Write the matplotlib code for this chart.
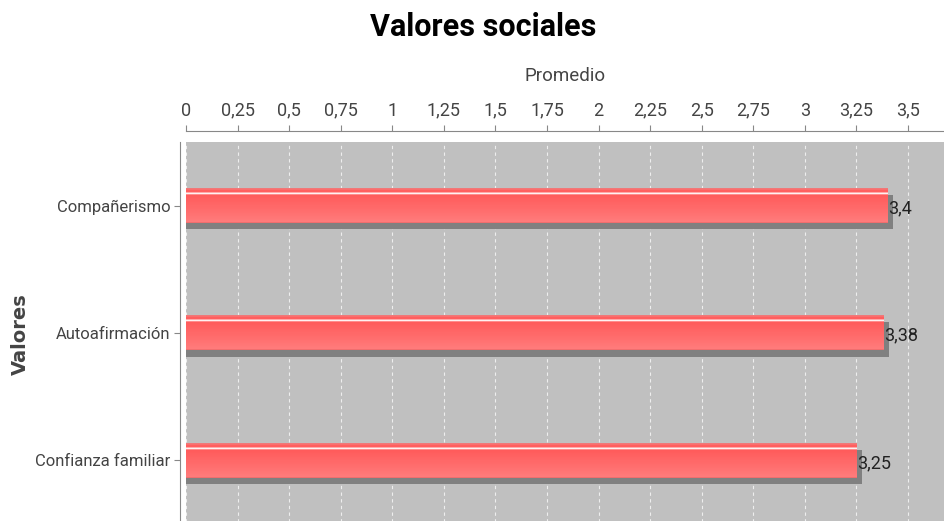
import numpy as np
import matplotlib
matplotlib.use("Agg")
import matplotlib.pyplot as plt
from matplotlib.ticker import MultipleLocator, FuncFormatter

# data
categorias = ["Compañerismo", "Autoafirmación", "Confianza familiar"]
promedios = [3.4, 3.38, 3.25]
etiquetas = ["3,4", "3,38", "3,25"]

FUENTE = ["Roboto", "DejaVu Sans"]
GRIS = "#444444"

fig = plt.figure(figsize=(9.44, 5.21), dpi=100)
W, H = 944, 521
ax = fig.add_axes([186 / W, -3 / H, 758 / W, 382 / H])
ax.set_facecolor("#c0c0c0")

# grid
ax.xaxis.set_major_locator(MultipleLocator(0.25))
ax.grid(axis="x", color="#eeeeee", linestyle=(0, (3, 3)), linewidth=0.8)
ax.set_axisbelow(True)

# gradient for bars (top to bottom)
rows = 34
grad = np.zeros((rows, 1, 3))
top = np.array([255, 82, 82]) / 255
bot = np.array([255, 125, 125]) / 255
for i in range(rows):
    t = i / (rows - 1)
    grad[i, 0] = top * (1 - t) + bot * t
grad[0, 0] = np.array([240, 120, 120]) / 255
grad[1, 0] = np.array([250, 110, 110]) / 255
grad[2, 0] = np.array([255, 95, 95]) / 255
grad[3, 0] = np.array([255, 95, 95]) / 255
grad[4, 0] = np.array([255, 170, 170]) / 255
grad[5, 0] = np.array([255, 240, 240]) / 255
grad[6, 0] = np.array([255, 140, 140]) / 255
grad[-1, 0] = np.array([240, 110, 110]) / 255

alto = 0.27
dx, dy = 0.028, 0.05
y = np.arange(len(categorias))

# shadows
ax.barh(y + dy, np.array(promedios) + dx, left=0, height=alto, color="#808080", zorder=2)

for yi, v, lab in zip(y, promedios, etiquetas):
    ax.imshow(grad, extent=(0, v, yi + alto / 2, yi - alto / 2), aspect="auto",
              interpolation="nearest", zorder=3)
    ax.text(v + 0.005, yi + 0.02, lab, ha="left", va="center", fontsize=13,
            family=FUENTE, color="#222222", zorder=4)

ax.set_xlim(0, 3.675)
ax.set_ylim(len(categorias) - 0.5, -0.5)

# axes styling
for s in ["right", "bottom"]:
    ax.spines[s].set_visible(False)
ax.spines["top"].set_position(("outward", 8))
ax.spines["left"].set_position(("outward", 4))
ax.spines["top"].set_color("#888888")
ax.spines["left"].set_color("#888888")

ax.xaxis.tick_top()
ax.xaxis.set_label_position("top")
ax.xaxis.set_major_formatter(FuncFormatter(lambda v, p: f"{v:g}".replace(".", ",")))
ax.tick_params(axis="x", direction="out", length=4, color="#888888", pad=4,
               labelsize=13, labelcolor=GRIS)
ax.tick_params(axis="y", direction="out", length=4, color="#888888", pad=3,
               labelsize=12, labelcolor=GRIS)
ax.set_yticks(y)
ax.set_yticklabels(categorias)
for t in ax.get_xticklabels() + ax.get_yticklabels():
    t.set_family(FUENTE)

ax.set_xlabel("Promedio", fontsize=13.5, family=FUENTE, color=GRIS, labelpad=15)

fig.text(20 / W, 1 - 334 / H, "Valores", rotation=90, ha="center", va="center",
         fontsize=14, fontweight="bold", color=GRIS, family="DejaVu Sans")
fig.text(483 / W, 1 - 27 / H, "Valores sociales", ha="center", va="center",
         fontsize=22, fontweight="bold", color="black", family=FUENTE)

fig.savefig("out.png", dpi=100)
